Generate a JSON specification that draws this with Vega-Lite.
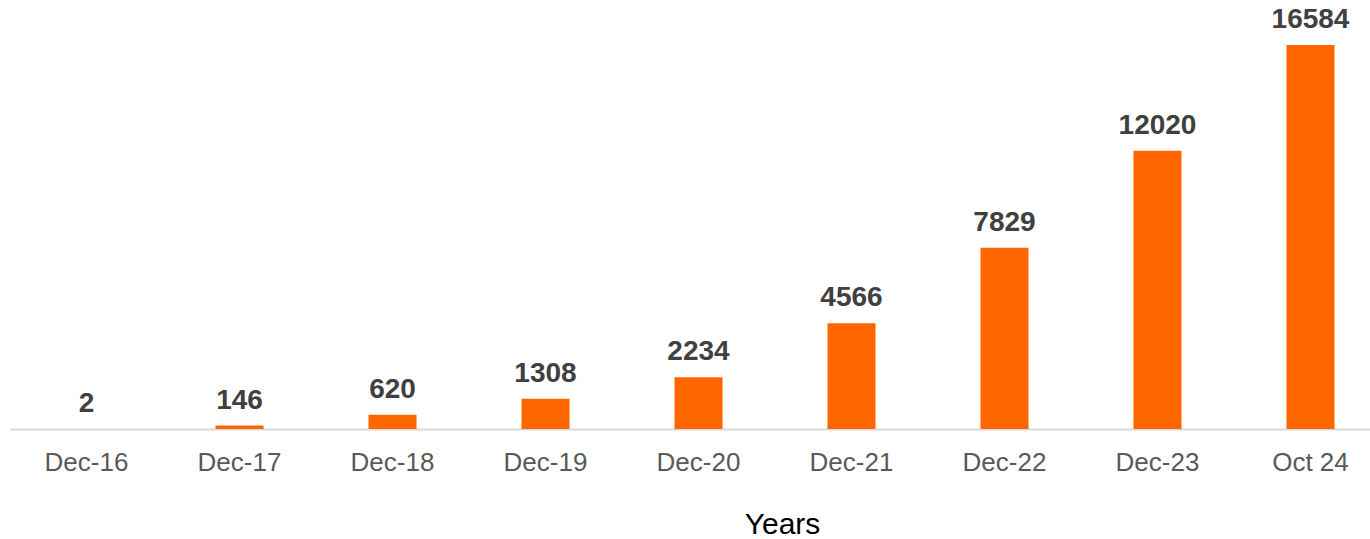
{
  "$schema": "https://vega.github.io/schema/vega-lite/v6.json",
  "autosize": "none",
  "width": 1377,
  "height": 429,
  "padding": {"left": 10, "top": 0, "right": 0, "bottom": 110},
  "background": "white",
  "config": {"view": {"stroke": null}, "font": "Liberation Sans"},
  "data": {"values": [
    {"period": "Dec-16", "value": 2},
    {"period": "Dec-17", "value": 146},
    {"period": "Dec-18", "value": 620},
    {"period": "Dec-19", "value": 1308},
    {"period": "Dec-20", "value": 2234},
    {"period": "Dec-21", "value": 4566},
    {"period": "Dec-22", "value": 7829},
    {"period": "Dec-23", "value": 12020},
    {"period": "Oct 24", "value": 16584}
  ]},
  "encoding": {
    "x": {
      "field": "period", "type": "nominal", "sort": null,
      "scale": {"paddingInner": 0.686, "paddingOuter": 0.343},
      "axis": {
        "title": "Years", "titleFont": "Liberation Sans", "titleFontSize": 30, "titleFontWeight": "normal",
        "titleColor": "#000000", "titleX": 772, "titleY": 104, "titleBaseline": "alphabetic",
        "labelFont": "Liberation Sans", "labelFontSize": 26, "labelColor": "#595959", "labelPadding": 20, "labelAngle": 0,
        "ticks": false, "domainColor": "#d9d9d9", "domainWidth": 2
      }
    },
    "y": {"field": "value", "type": "quantitative", "scale": {"domain": [0, 18530], "nice": false}, "axis": null}
  },
  "layer": [
    {"mark": {"type": "bar", "color": "#FF6600"}},
    {"mark": {"type": "text", "font": "Liberation Sans", "fontSize": 28, "fontWeight": "bold", "color": "#404040", "baseline": "alphabetic", "dy": -17},
     "encoding": {"text": {"field": "value", "type": "quantitative", "format": "d"}}}
  ]
}
